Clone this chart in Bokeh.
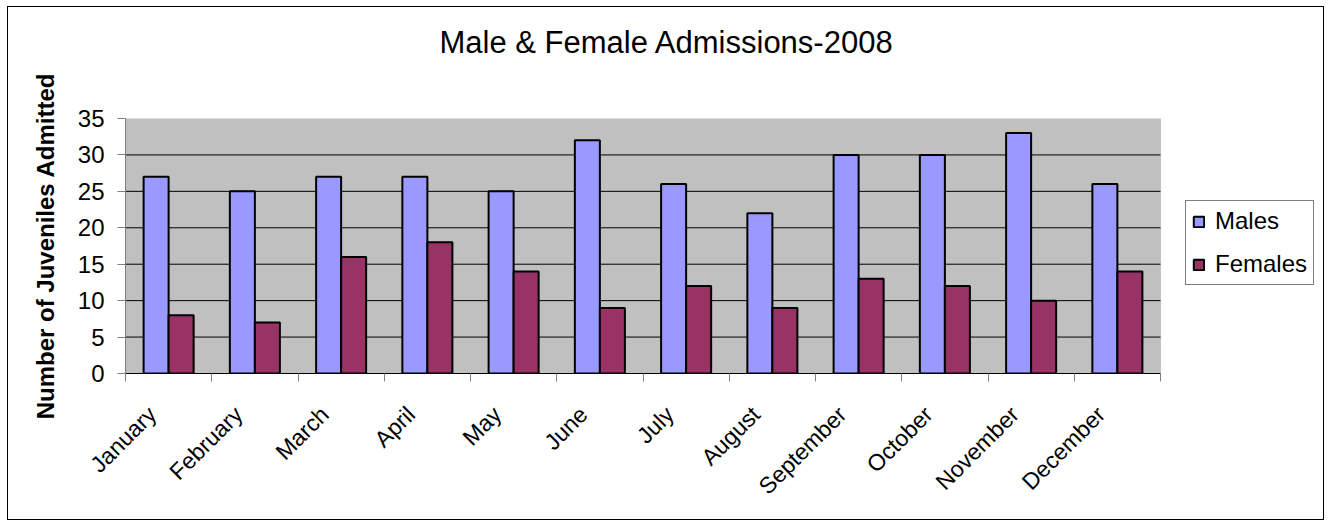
import math
from bokeh.plotting import figure
from bokeh.models import (Range1d, FixedTicker, ColumnDataSource, Legend, LegendItem,
                          Title, BoxAnnotation)
from bokeh.transform import dodge
from bokeh.embed import file_html
from bokeh.resources import INLINE

months = ["January", "February", "March", "April", "May", "June", "July",
          "August", "September", "October", "November", "December"]
males = [27, 25, 27, 27, 25, 32, 26, 22, 30, 30, 33, 26]
females = [8, 7, 16, 18, 14, 9, 12, 9, 13, 12, 10, 14]
y_ticks = [0, 5, 10, 15, 20, 25, 30, 35]

FONT = "Liberation Sans"
n = len(months)
pos = [i + 0.5 for i in range(n)]
label_pos = [v - 0.19 for v in pos]
src = ColumnDataSource(dict(x=pos, males=males, females=females, month=months))

PLOT_W = 1035      # pixel width of the data area
FRAME_W = 1196     # frame also holds the legend on the right
p = figure(frame_width=FRAME_W, frame_height=255, output_backend="svg", toolbar_location=None,
           x_range=Range1d(0, n * FRAME_W / PLOT_W), y_range=Range1d(0, y_ticks[-1]),
           min_border_left=117, min_border_right=2, min_border_top=111,
           min_border_bottom=146,
           title="Male & Female Admissions-2008")
p.styles = {"border": "1px solid black", "margin-left": "7px", "margin-top": "6px"}
p.background_fill_color = "white"
p.border_fill_color = "white"
p.outline_line_color = None

# grey plot area
p.add_layout(BoxAnnotation(left=0, right=n, bottom=y_ticks[0], top=y_ticks[-1],
                           fill_color="#C0C0C0", fill_alpha=1,
                           line_color="#808080", line_width=1, level="underlay"))

p.title.text_font = FONT
p.title.text_font_size = "31px"
p.title.text_font_style = "normal"
p.title.text_color = "black"
p.title.align = "left"
p.title.offset = 314
p.title.standoff = 10

# spacer between title and frame
p.add_layout(Title(text=" ", text_font_size="1px", standoff=51), "above")

# horizontal grid lines over the grey area only
grid_y = y_ticks[1:-1]
p.segment(x0=[0] * len(grid_y), x1=[n] * len(grid_y), y0=grid_y, y1=grid_y,
          line_color="black", line_width=1)

r1 = p.vbar(x=dodge("x", -0.145, range=p.x_range), top="males", width=0.29,
            source=src, fill_color="#9999FF", line_color="black", line_width=2)
r2 = p.vbar(x=dodge("x", 0.145, range=p.x_range), top="females", width=0.29,
            source=src, fill_color="#993366", line_color="black", line_width=2)

p.xgrid.visible = False
p.ygrid.visible = False

# y axis
ya = p.yaxis[0]
ya.ticker = FixedTicker(ticks=y_ticks)
ya.axis_label = "Number of Juveniles Admitted"
ya.axis_label_text_font = FONT
ya.axis_label_text_font_size = "24px"
ya.axis_label_text_font_style = "bold"
ya.axis_label_text_color = "black"
ya.axis_label_standoff = 16
ya.major_label_text_font = FONT
ya.major_label_text_font_size = "24px"
ya.major_label_text_color = "black"
ya.major_label_standoff = 13
ya.major_tick_out = 8
ya.major_tick_in = 0
ya.minor_tick_out = 0
ya.minor_tick_in = 0
ya.axis_line_color = "#808080"
ya.major_tick_line_color = "#808080"

# x axis: labels near centers, ticks at category boundaries (minor ticks)
xa = p.xaxis[0]
xa.bounds = (0, n)
xa.ticker = FixedTicker(ticks=label_pos, minor_ticks=list(range(n + 1)))
xa.major_label_overrides = {v: m for v, m in zip(label_pos, months)}
xa.major_label_orientation = math.pi / 4
xa.major_label_text_font = FONT
xa.major_label_text_font_size = "23px"
xa.major_label_text_color = "black"
xa.major_label_standoff = 29
xa.major_tick_out = 0
xa.major_tick_in = 0
xa.minor_tick_out = 8
xa.minor_tick_in = 0
xa.minor_tick_line_color = "#808080"
xa.axis_line_color = "black"

legend = Legend(items=[LegendItem(label="Males", renderers=[r1]),
                       LegendItem(label="Females", renderers=[r2])],
                location=(PLOT_W + 25, 88))
legend.label_text_font = FONT
legend.label_text_font_size = "24px"
legend.label_text_color = "black"
legend.label_height = 24
legend.glyph_height = 13
legend.glyph_width = 13
legend.spacing = 15
legend.padding = 6
legend.margin = 0
legend.label_standoff = 10
legend.border_line_color = "black"
legend.border_line_width = 1
legend.background_fill_color = "white"
legend.background_fill_alpha = 1
p.add_layout(legend, "center")

open("out.html", "w").write(file_html(p, INLINE))
